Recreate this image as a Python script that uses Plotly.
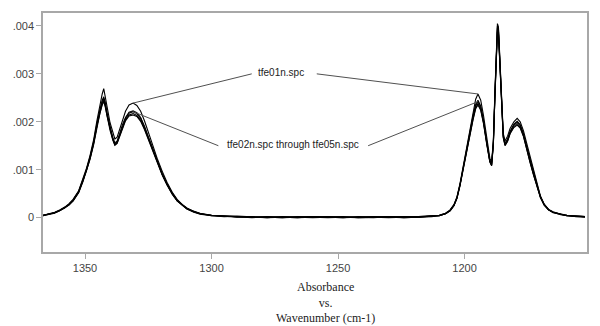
import plotly.graph_objects as go

# Wavenumber grid (cm-1), descending
WAVENUMBER = [1366.6, 1364.0, 1362.0, 1360.0, 1358.0, 1356.3, 1354.7, 1352.5, 1350.8, 1349.4,
              1348.0, 1346.6, 1345.3, 1344.1, 1343.2, 1342.6, 1342.0, 1341.3, 1340.1, 1339.0,
              1338.2, 1337.3, 1336.3, 1335.2, 1334.0, 1332.6, 1331.0, 1329.5, 1328.0, 1326.5,
              1325.0, 1323.5, 1321.5, 1319.5, 1317.6, 1315.5, 1313.6, 1311.5, 1309.7, 1307.0,
              1304.5, 1300.0, 1295.0, 1290.0, 1284.0, 1278.0, 1272.0, 1266.0, 1260.0, 1254.0,
              1248.0, 1242.0, 1236.0, 1230.0, 1224.0, 1218.0, 1213.0, 1210.0, 1207.5, 1205.7,
              1204.2, 1203.0, 1201.8, 1200.6, 1199.2, 1197.8, 1196.6, 1195.6, 1194.7, 1193.6,
              1192.5, 1191.2, 1190.0, 1189.3, 1188.6, 1188.0, 1187.4, 1187.0, 1186.6, 1186.0,
              1185.4, 1184.7, 1184.0, 1183.0, 1182.0, 1180.5, 1179.2, 1178.0, 1176.7, 1175.3,
              1174.1, 1172.7, 1171.3, 1170.0, 1168.5, 1166.8, 1165.0, 1162.0, 1159.5, 1156.0,
              1152.4]

# Absorbance in units of 0.001
TFE01 = [0.05, 0.08, 0.11, 0.16, 0.22, 0.29, 0.38, 0.56, 0.80, 1.03,
         1.30, 1.62, 2.02, 2.36, 2.58, 2.69, 2.55, 2.32, 1.98, 1.76,
         1.64, 1.68, 1.84, 2.04, 2.22, 2.35, 2.39, 2.34, 2.22, 2.02,
         1.78, 1.54, 1.24, 0.97, 0.74, 0.53, 0.38, 0.27, 0.20, 0.13,
         0.09, 0.05, 0.03, 0.02, 0.01, 0.00, 0.02, 0.01, 0.00, 0.01,
         0.02, 0.00, 0.01, 0.01, 0.02, 0.02, 0.03, 0.05, 0.09, 0.16,
         0.27, 0.43, 0.71, 1.06, 1.48, 1.87, 2.22, 2.47, 2.58, 2.45,
         2.13, 1.64, 1.24, 1.15, 1.62, 2.62, 3.52, 4.05, 3.98, 3.25,
         2.35, 1.76, 1.60, 1.70, 1.86, 2.00, 2.07, 2.00, 1.81, 1.53,
         1.24, 0.95, 0.67, 0.45, 0.28, 0.17, 0.12, 0.07, 0.05, 0.03,
         0.02]

TFE02 = [0.04, 0.07, 0.10, 0.15, 0.21, 0.27, 0.36, 0.54, 0.77, 0.99,
         1.25, 1.56, 1.94, 2.24, 2.42, 2.49, 2.38, 2.16, 1.86, 1.65,
         1.54, 1.58, 1.73, 1.92, 2.07, 2.18, 2.21, 2.17, 2.07, 1.89,
         1.67, 1.45, 1.17, 0.91, 0.70, 0.50, 0.36, 0.26, 0.19, 0.12,
         0.08, 0.05, 0.03, 0.02, 0.00, 0.01, 0.00, 0.02, 0.01, 0.00,
         0.01, 0.01, 0.00, 0.02, 0.01, 0.01, 0.03, 0.04, 0.08, 0.15,
         0.26, 0.41, 0.68, 1.02, 1.42, 1.79, 2.11, 2.33, 2.42, 2.30,
         2.01, 1.56, 1.18, 1.10, 1.56, 2.55, 3.45, 3.96, 3.90, 3.18,
         2.28, 1.70, 1.53, 1.62, 1.78, 1.93, 1.99, 1.92, 1.73, 1.46,
         1.18, 0.90, 0.63, 0.43, 0.27, 0.16, 0.11, 0.07, 0.04, 0.03,
         0.02]

TFE03 = [0.05, 0.07, 0.10, 0.15, 0.20, 0.27, 0.35, 0.53, 0.76, 0.98,
         1.23, 1.54, 1.91, 2.20, 2.38, 2.45, 2.34, 2.13, 1.84, 1.63,
         1.52, 1.56, 1.71, 1.89, 2.04, 2.14, 2.17, 2.13, 2.03, 1.86,
         1.65, 1.43, 1.16, 0.90, 0.69, 0.49, 0.35, 0.25, 0.18, 0.12,
         0.08, 0.04, 0.02, 0.03, 0.01, 0.00, 0.01, 0.00, 0.02, 0.01,
         0.00, 0.02, 0.01, 0.00, 0.01, 0.02, 0.02, 0.04, 0.08, 0.14,
         0.25, 0.40, 0.67, 1.00, 1.40, 1.76, 2.07, 2.29, 2.38, 2.26,
         1.98, 1.54, 1.17, 1.09, 1.54, 2.52, 3.41, 3.92, 3.86, 3.14,
         2.25, 1.68, 1.51, 1.60, 1.76, 1.90, 1.96, 1.89, 1.70, 1.44,
         1.16, 0.89, 0.62, 0.42, 0.26, 0.16, 0.11, 0.06, 0.04, 0.03,
         0.01]

TFE04 = [0.05, 0.08, 0.10, 0.15, 0.21, 0.28, 0.37, 0.55, 0.78, 1.00,
         1.27, 1.58, 1.96, 2.27, 2.45, 2.52, 2.41, 2.18, 1.88, 1.67,
         1.56, 1.60, 1.75, 1.94, 2.09, 2.20, 2.23, 2.19, 2.09, 1.91,
         1.69, 1.47, 1.19, 0.92, 0.71, 0.51, 0.37, 0.26, 0.19, 0.13,
         0.08, 0.05, 0.03, 0.01, 0.02, 0.01, 0.00, 0.01, 0.02, 0.01,
         0.00, 0.01, 0.02, 0.01, 0.00, 0.01, 0.03, 0.05, 0.09, 0.15,
         0.26, 0.42, 0.69, 1.03, 1.44, 1.81, 2.14, 2.36, 2.45, 2.33,
         2.03, 1.58, 1.19, 1.11, 1.58, 2.58, 3.48, 4.00, 3.94, 3.21,
         2.30, 1.72, 1.55, 1.64, 1.80, 1.95, 2.01, 1.94, 1.75, 1.48,
         1.19, 0.91, 0.64, 0.44, 0.27, 0.17, 0.11, 0.07, 0.05, 0.02,
         0.02]

TFE05 = [0.04, 0.07, 0.09, 0.14, 0.20, 0.26, 0.35, 0.52, 0.75, 0.97,
         1.22, 1.52, 1.89, 2.18, 2.35, 2.42, 2.31, 2.11, 1.82, 1.62,
         1.51, 1.55, 1.70, 1.87, 2.02, 2.12, 2.14, 2.11, 2.01, 1.84,
         1.63, 1.42, 1.15, 0.89, 0.68, 0.49, 0.35, 0.25, 0.18, 0.11,
         0.07, 0.04, 0.03, 0.02, 0.01, 0.02, 0.01, 0.00, 0.01, 0.02,
         0.01, 0.00, 0.01, 0.02, 0.00, 0.01, 0.02, 0.04, 0.08, 0.14,
         0.25, 0.40, 0.66, 0.99, 1.38, 1.74, 2.05, 2.27, 2.35, 2.24,
         1.96, 1.52, 1.16, 1.08, 1.52, 2.50, 3.38, 3.88, 3.83, 3.12,
         2.23, 1.67, 1.50, 1.59, 1.75, 1.88, 1.93, 1.87, 1.69, 1.43,
         1.15, 0.88, 0.62, 0.42, 0.26, 0.16, 0.10, 0.06, 0.04, 0.03,
         0.02]

SERIES = [("tfe01n.spc", TFE01), ("tfe02n.spc", TFE02), ("tfe03n.spc", TFE03),
          ("tfe04n.spc", TFE04), ("tfe05n.spc", TFE05)]

Y_TICKS = [0, 1, 2, 3, 4]
Y_TICKTEXT = ["0", ".001", ".002", ".003", ".004"]
X_TICKS = [1350, 1300, 1250, 1200]

LABEL_TOP = "tfe01n.spc"
LABEL_BOTTOM = "tfe02n.spc through tfe05n.spc"
TITLE_LINES = ["Absorbance", "vs.", "Wavenumber (cm-1)"]

fig = go.Figure()
for name, vals in SERIES[::-1]:
    fig.add_trace(go.Scatter(x=WAVENUMBER, y=vals, mode="lines", name=name,
                             line=dict(color="#000000", width=1.1), showlegend=False,
                             hoverinfo="skip"))


def peak(vals, lo, hi):
    pts = [(v, w) for w, v in zip(WAVENUMBER, vals) if lo <= w <= hi]
    v, w = max(pts)
    return w, v


l1 = peak(TFE01, 1325, 1336)
r1 = peak(TFE01, 1192, 1198)
l2 = peak(TFE02, 1325, 1336)
r2 = peak(TFE02, 1192, 1198)

lc = dict(color="#505050", width=1)
fig.add_shape(type="line", x0=1284.1, y0=3.0, x1=l1[0], y1=l1[1], line=lc)
fig.add_shape(type="line", x0=1258.4, y0=3.0, x1=r1[0], y1=r1[1], line=lc)
fig.add_shape(type="line", x0=1297.3, y0=1.50, x1=l2[0], y1=l2[1], line=lc)
fig.add_shape(type="line", x0=1238.1, y0=1.50, x1=r2[0], y1=r2[1], line=lc)

tf = dict(family="Liberation Sans, Arial", size=10, color="#222222")
fig.add_annotation(x=1272.7, y=3.02, text=LABEL_TOP, showarrow=False, font=tf)
fig.add_annotation(x=1267.8, y=1.52, text=LABEL_BOTTOM, showarrow=False, font=tf)

title_font = dict(family="Liberation Serif, Times New Roman", size=12, color="#222222")
fig.add_annotation(xref="paper", yref="paper", x=0.519, y=0, yanchor="middle",
                   yshift=-50, text="<br>".join(TITLE_LINES), showarrow=False,
                   font=title_font)

axis_common = dict(showgrid=False, zeroline=False, showline=True, linecolor="#a8a8a8",
                   linewidth=1.5, mirror=True, ticks="outside", ticklen=5,
                   tickcolor="#a8a8a8", tickwidth=1,
                   tickfont=dict(family="Liberation Sans, Arial", size=11, color="#444444"))

fig.update_layout(
    width=600, height=326,
    margin=dict(l=43, r=13, t=11, b=74),
    paper_bgcolor="white", plot_bgcolor="white",
    xaxis=dict(range=[1366.6, 1151.6], tickvals=X_TICKS, **axis_common),
    yaxis=dict(range=[-0.718, 4.27], tickvals=Y_TICKS, ticktext=Y_TICKTEXT, **axis_common),
)

fig.write_html("out.html")
